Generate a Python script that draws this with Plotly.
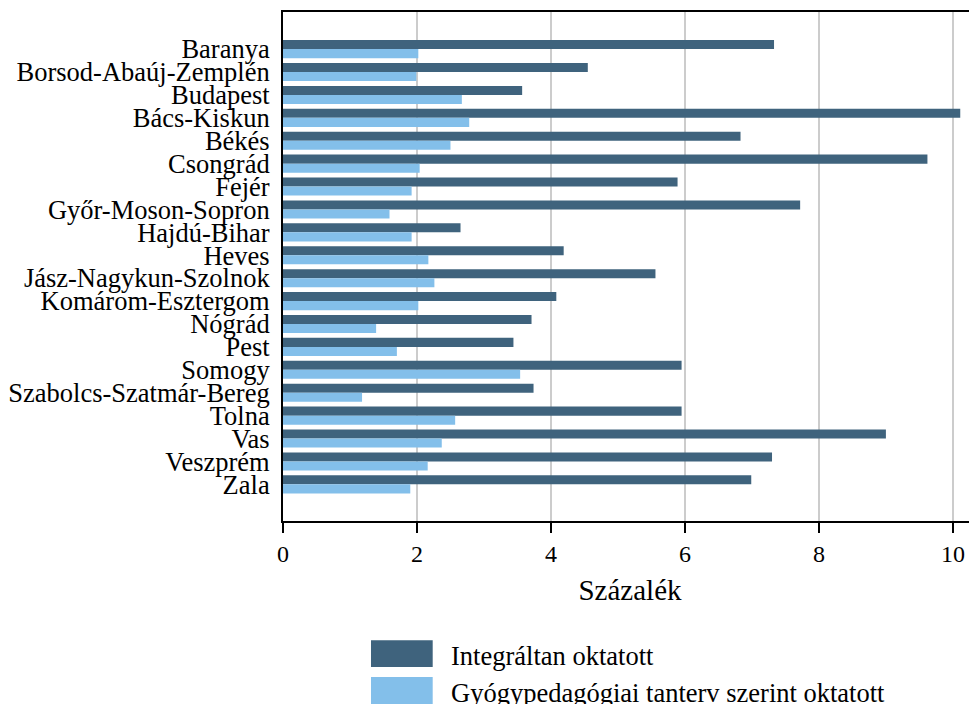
import plotly.graph_objects as go

counties = ["Baranya", "Borsod-Abaúj-Zemplén", "Budapest", "Bács-Kiskun", "Békés",
            "Csongrád", "Fejér", "Győr-Moson-Sopron", "Hajdú-Bihar", "Heves",
            "Jász-Nagykun-Szolnok", "Komárom-Esztergom", "Nógrád", "Pest", "Somogy",
            "Szabolcs-Szatmár-Bereg", "Tolna", "Vas", "Veszprém", "Zala"]
integralt = [7.33, 4.55, 3.57, 10.11, 6.83, 9.62, 5.89, 7.72, 2.65, 4.19,
             5.56, 4.08, 3.71, 3.44, 5.95, 3.74, 5.95, 9.00, 7.30, 6.99]
gyogyped = [2.02, 1.99, 2.67, 2.78, 2.50, 2.04, 1.92, 1.59, 1.92, 2.17,
            2.26, 2.02, 1.39, 1.70, 3.54, 1.18, 2.57, 2.37, 2.16, 1.90]
series_names = ["Integráltan oktatott", "Gyógypedagógiai tanterv szerint oktatott"]
colors = ["#3F637D", "#83BFEA"]
x_ticks = [0, 2, 4, 6, 8, 10]
x_title = "Százalék"

FONT = "Liberation Serif"

fig = go.Figure()
for name, vals, col in zip(series_names, [integralt, gyogyped], colors):
    fig.add_trace(go.Bar(
        y=counties, x=vals, name=name, orientation="h",
        marker=dict(color=col, line=dict(width=0)),
        showlegend=False,
    ))

fig.update_layout(
    width=969, height=696,
    margin=dict(l=275, r=0, t=4, b=183, pad=0),
    barmode="group", bargap=0.21, bargroupgap=0,
    plot_bgcolor="white", paper_bgcolor="white",
    font=dict(family=FONT, color="black"),
)
fig.update_xaxes(
    range=[0, 10.36], tickvals=x_ticks, ticktext=[str(v) for v in x_ticks],
    showgrid=True, gridcolor="#cccccc", gridwidth=1.5,
    showline=True, linecolor="black", linewidth=2, mirror=True,
    ticks="outside", ticklen=10, tickwidth=2, tickcolor="black",
    tickfont=dict(size=24, family=FONT), zeroline=False,
    title=dict(text=x_title, font=dict(size=29, family=FONT), standoff=14),
)
fig.update_yaxes(
    type="category", categoryorder="array", categoryarray=counties,
    tickmode="array", tickvals=counties, ticktext=counties,
    range=[20.6, -1.62], showgrid=False,
    showline=True, linecolor="black", linewidth=2,
    ticks="", ticklabelstandoff=6,
    tickfont=dict(size=26.5, family=FONT),
)

# Legend drawn as swatches + labels beneath the plot
swatches = [(-0.2345, -0.2870, -0.266), (-0.3067, -0.375, -0.337)]
for (y0, y1, yt), name, col in zip(swatches, series_names, colors):
    fig.add_shape(type="rect", xref="paper", yref="paper",
                  x0=0.1268, x1=0.2157, y0=y1, y1=y0,
                  fillcolor=col, line=dict(width=0))
    fig.add_annotation(xref="paper", yref="paper", x=0.2392, y=yt,
                       xanchor="left", yanchor="middle", showarrow=False,
                       text=name, font=dict(size=26.5, family=FONT, color="black"))

fig.write_html("out.html")
